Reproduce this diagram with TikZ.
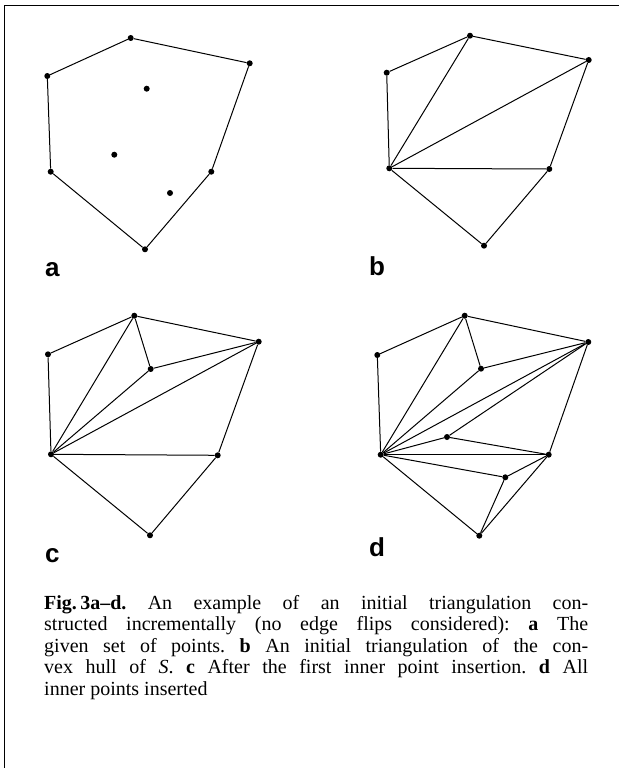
\documentclass[tikz,border=0pt]{standalone}
\usepackage{fontspec}
\setmainfont{Liberation Serif}
\newfontfamily\labelfont{Liberation Sans}
\begin{document}
\begin{tikzpicture}[x=1pt,y=-1pt,
  dot/.style={circle,fill=black,inner sep=0pt,minimum size=6pt},
  edge/.style={line width=1pt},
  lab/.style={anchor=base west,inner sep=0pt,font=\labelfont\bfseries\fontsize{26}{26}\selectfont},
  captext/.style={anchor=base west,inner sep=0pt,font=\frenchspacing\fontsize{20}{21.5}\selectfont}]
\useasboundingbox (0,0) rectangle (619,768);
\draw[line width=1.6pt] (4.5,768) |- (619,5.5);
% panel a
\node[dot] (aT) at (130.7,38) {};
\node[dot] (aUR) at (249.7,63.3) {};
\node[dot] (aLU) at (47.3,76) {};
\node[dot] (aI1) at (146.7,88.7) {};
\node[dot] (aI2) at (114.3,154.7) {};
\node[dot] (aLL) at (50.7,171.7) {};
\node[dot] (aRL) at (211.3,171.7) {};
\node[dot] (aI3) at (170,193) {};
\node[dot] (aB) at (145,249.3) {};
\draw[edge] (aLU)--(aT)--(aUR)--(aRL)--(aB)--(aLL)--(aLU);
\node[lab] (la) at (45,276) {a};
% panel b
\node[dot] (bT) at (470,35.7) {};
\node[dot] (bUR) at (588.7,60) {};
\node[dot] (bLU) at (386.7,72.7) {};
\node[dot] (bLL) at (389.3,168.3) {};
\node[dot] (bRL) at (549.3,169) {};
\node[dot] (bB) at (484,245.7) {};
\draw[edge] (bLU)--(bT)--(bUR)--(bRL)--(bB)--(bLL)--(bLU);
\draw[edge] (bLL)--(bT);
\draw[edge] (bLL)--(bUR);
\draw[edge] (bLL)--(bRL);
\node[lab] (lb) at (369,275) {b};
% panel c
\node[dot] (cT) at (134.3,315.7) {};
\node[dot] (cUR) at (258.7,341.7) {};
\node[dot] (cLU) at (48,354.3) {};
\node[dot] (cI1) at (150.7,369) {};
\node[dot] (cLL) at (51,454.3) {};
\node[dot] (cRL) at (217.7,455.3) {};
\node[dot] (cB) at (150,535.3) {};
\draw[edge] (cLU)--(cT)--(cUR)--(cRL)--(cB)--(cLL)--(cLU);
\draw[edge] (cLL)--(cT);
\draw[edge] (cT)--(cI1);
\draw[edge] (cI1)--(cUR);
\draw[edge] (cLL)--(cI1);
\draw[edge] (cLL)--(cUR);
\draw[edge] (cLL)--(cRL);
\node[lab] (lc) at (45,562) {c};
% panel d
\node[dot] (dT) at (464.7,315.7) {};
\node[dot] (dUR) at (588.3,342) {};
\node[dot] (dLU) at (377.3,355) {};
\node[dot] (dI1) at (481,368.7) {};
\node[dot] (dI2) at (447,437) {};
\node[dot] (dLL) at (380.7,454.7) {};
\node[dot] (dRL) at (548.7,454.7) {};
\node[dot] (dI3) at (505.3,477.3) {};
\node[dot] (dB) at (479.3,535.7) {};
\draw[edge] (dLU)--(dT)--(dUR)--(dRL)--(dB)--(dLL)--(dLU);
\draw[edge] (dLL)--(dT);
\draw[edge] (dT)--(dI1);
\draw[edge] (dI1)--(dUR);
\draw[edge] (dLL)--(dI1);
\draw[edge] (dLL)--(dUR);
\draw[edge] (dLL)--(dI2);
\draw[edge] (dI2)--(dUR);
\draw[edge] (dI2)--(dRL);
\draw[edge] (dLL)--(dRL);
\draw[edge] (dLL)--(dI3);
\draw[edge] (dI3)--(dRL);
\draw[edge] (dI3)--(dB);
\node[lab] (ld) at (369,556) {d};
% caption
\node[captext] (cap1) at (44,609) {\makebox[544pt][s]{\textbf{Fig.\,3a--d.} An example of an initial triangulation con-}};
\node[captext] (cap2) at (44,630.5) {\makebox[544pt][s]{structed incrementally (no edge flips considered): \textbf{a} The}};
\node[captext] (cap3) at (44,652) {\makebox[544pt][s]{given set of points. \textbf{b} An initial triangulation of the con-}};
\node[captext] (cap4) at (44,673.5) {\makebox[544pt][s]{vex hull of \textit{S}. \textbf{c} After the first inner point insertion. \textbf{d} All}};
\node[captext] (cap5) at (44,695) {inner points inserted};
\end{tikzpicture}
\end{document}
